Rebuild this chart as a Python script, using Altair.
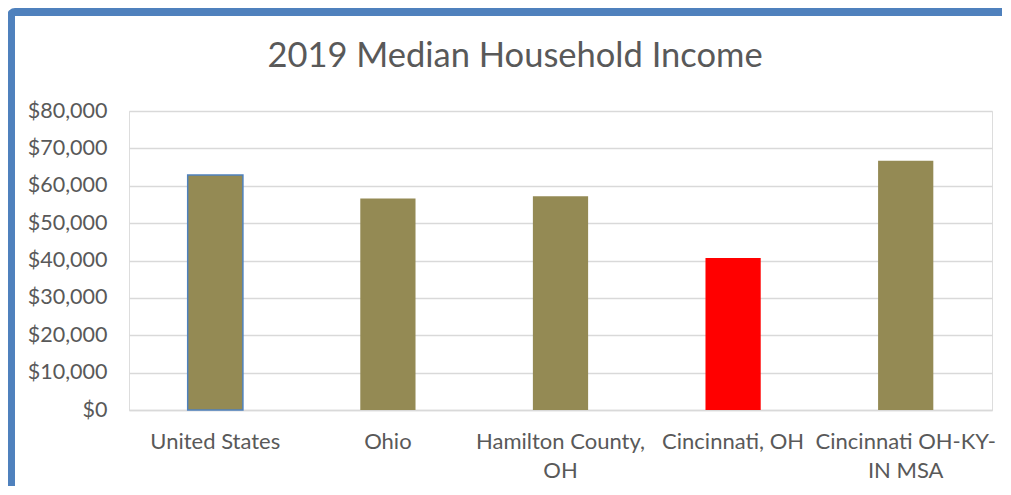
import altair as alt
import pandas as pd

areas = ["United States", "Ohio", "Hamilton County, OH", "Cincinnati, OH", "Cincinnati OH-KY-IN MSA"]
incomes = [62843, 56602, 57212, 40640, 66700]
title_text = ["2019 Median Household Income"]

df = pd.DataFrame({"area": areas, "income": incomes})

FONT = "Lato"
GRAY = "#595959"
OLIVE = "#948A54"
BLUE = "#4F81BD"

label_expr = ("datum.label == 'Hamilton County, OH' ? ['Hamilton County,', 'OH'] : "
              "datum.label == 'Cincinnati OH-KY-IN MSA' ? ['Cincinnati OH-KY-', 'IN MSA'] : datum.label")

base = alt.Chart(df)

bars = base.mark_bar().encode(
    x=alt.X("area:N", sort=areas, title=None,
            scale=alt.Scale(paddingInner=0.68, paddingOuter=0.34),
            axis=alt.Axis(labelAngle=0, labelExpr=label_expr, labelFont=FONT, labelFontSize=22,
                          labelColor=GRAY, labelPadding=21, labelLineHeight=29, labelLimit=0,
                          ticks=False, domainColor="#D9D9D9", domainWidth=1.5, grid=False)),
    y=alt.Y("income:Q", title=None,
            scale=alt.Scale(domain=[0, 80000], nice=False),
            axis=alt.Axis(values=list(range(0, 80001, 10000)), format="$,.0f", labelFont=FONT,
                          labelFontSize=21.5, labelColor=GRAY, labelPadding=22, ticks=False,
                          domain=False, gridColor="#D9D9D9", gridWidth=1.3)),
    color=alt.condition(alt.datum.area == "Cincinnati, OH", alt.value("#FF0000"), alt.value(OLIVE)),
    stroke=alt.condition(alt.datum.area == "United States", alt.value(BLUE), alt.value(None)),
    strokeWidth=alt.condition(alt.datum.area == "United States", alt.value(1.5), alt.value(0)),
)

title = alt.Chart(pd.DataFrame({"t": title_text})).mark_text(
    font=FONT, fontSize=34.5, color=GRAY, align="center", baseline="alphabetic"
).encode(text="t:N", x=alt.value(386), y=alt.value(-44))

frame = alt.Chart(pd.DataFrame({"k": [0]})).mark_rect(
    fill=None, stroke=BLUE, strokeWidth=8, cornerRadius=4
).encode(
    x=alt.value(-118), x2=alt.value(910), y=alt.value(-99), y2=alt.value(420)
)

chart = alt.layer(bars, title, frame).properties(
    width=863, height=299,
    padding={"left": 121, "top": 103, "right": 10, "bottom": 76},
    autosize=alt.AutoSizeParams(type="none"),
).configure_view(stroke=None).configure(background="white")

chart.save("out.html", embed_options={"renderer": "svg", "actions": False})
